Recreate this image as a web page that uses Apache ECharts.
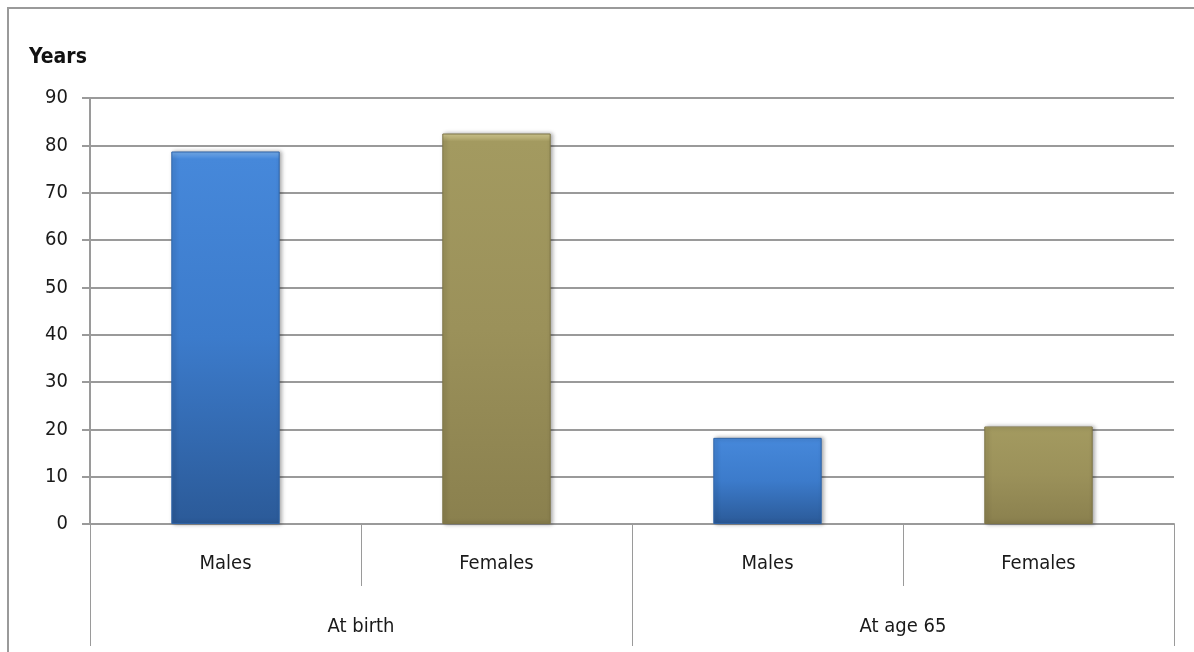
<!DOCTYPE html>
<html>
<head>
    <meta charset="utf-8">
    <title>Life expectancy</title>
    <script src="https://cdn.jsdelivr.net/npm/echarts@6/dist/echarts.min.js"></script>
    <style>
        html, body {margin:0;padding:0;background:#fff;}
        #chart {width:1194px;height:652px;}
    </style>
</head>
<body>
<div id="chart"></div>
<script>
    // data
    const subCategories = ['Males', 'Females', 'Males', 'Females'];
    const groups = ['At birth', 'At age 65'];
    const years = [78.7, 82.5, 18.2, 20.6];
    const yTicks = {min: 0, max: 90, interval: 10};

    const font = '"Liberation Sans Narrow", "DejaVu Sans Condensed", "Noto Sans", sans-serif';
    const gray = '#9a9a9a';

    // bevelled bar look, one per sex
    const blueFill = new echarts.graphic.LinearGradient(0, 0, 0, 1, [
        {offset: 0, color: '#79b1f0'},
        {offset: 0.02, color: '#4688da'},
        {offset: 0.5, color: '#3c7bcb'},
        {offset: 1, color: '#2b5a98'}
    ]);
    const oliveFill = new echarts.graphic.LinearGradient(0, 0, 0, 1, [
        {offset: 0, color: '#d8cf94'},
        {offset: 0.02, color: '#a39a60'},
        {offset: 0.5, color: '#9b915a'},
        {offset: 1, color: '#8a804e'}
    ]);

    const chart = echarts.init(document.getElementById('chart'));
    chart.setOption({
        animation: false,
        backgroundColor: '#fff',
        title: {
            text: 'Years',
            left: 24,
            top: 42,
            textStyle: {fontFamily: font, fontWeight: 'bold', fontSize: 21, color: '#111'}
        },
        graphic: [{
            type: 'rect',
            shape: {x: 8, y: 8, width: 1300, height: 800},
            style: {fill: 'none', stroke: gray, lineWidth: 2},
            silent: true
        }],
        grid: {left: 90, right: 20, top: 98, bottom: 128},
        xAxis: [{
            type: 'category',
            data: subCategories,
            position: 'bottom',
            axisLine: {show: true, lineStyle: {color: gray, width: 2}},
            axisTick: {show: true, length: 62, lineStyle: {color: gray, width: 1}},
            axisLabel: {margin: 30, fontFamily: font, fontSize: 20, color: '#1a1a1a'}
        }, {
            type: 'category',
            data: groups,
            position: 'bottom',
            offset: 62,
            axisLine: {show: false},
            axisTick: {show: true, length: 60, lineStyle: {color: gray, width: 1}},
            axisLabel: {margin: 31, fontFamily: font, fontSize: 20, color: '#1a1a1a'}
        }],
        yAxis: {
            type: 'value',
            min: yTicks.min,
            max: yTicks.max,
            interval: yTicks.interval,
            axisLine: {show: true, lineStyle: {color: gray, width: 2}},
            axisTick: {show: true, length: 8, lineStyle: {color: gray, width: 2}},
            axisLabel: {margin: 22, fontFamily: font, fontSize: 20, color: '#1a1a1a'},
            splitLine: {show: true, lineStyle: {color: gray, width: 2}}
        },
        series: [{
            type: 'bar',
            xAxisIndex: 0,
            barWidth: '40%',
            data: years.map(function (v, i) {
                return {
                    value: v,
                    itemStyle: {
                        color: i % 2 === 0 ? blueFill : oliveFill,
                        borderColor: i % 2 === 0 ? '#2f64a8' : '#7d7446',
                        borderWidth: 1,
                        shadowColor: 'rgba(0,0,0,0.35)',
                        shadowBlur: 4,
                        shadowOffsetX: 2
                    }
                };
            })
        }]
    });
    window.onresize = function () {chart.resize()};
</script>
</body>
</html>
